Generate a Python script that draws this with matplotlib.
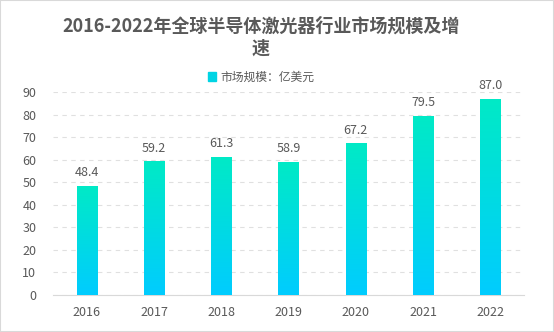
import matplotlib.pyplot as plt
import numpy as np
from matplotlib.colors import LinearSegmentedColormap
from matplotlib.patches import Rectangle

plt.rcParams['font.family'] = ['Noto Sans CJK SC', 'DejaVu Sans']

years = ["2016", "2017", "2018", "2019", "2020", "2021", "2022"]
market = [48.4, 59.2, 61.3, 58.9, 67.2, 79.5, 87.0]
yticks = [0, 10, 20, 30, 40, 50, 60, 70, 80, 90]

title = "2016-2022年全球半导体激光器行业市场规模及增\n速"
legend_label = "市场规模：亿美元"

top_color = "#00eac6"
bottom_color = "#00ccff"
text_color = "#595959"


def main():
    fig = plt.figure(figsize=(5.54, 3.32), dpi=100)
    ax = fig.add_axes([53 / 554, 37 / 332, 471 / 554, 203 / 332])

    cmap = LinearSegmentedColormap.from_list("bar", [bottom_color, top_color])
    grad = np.linspace(0, 1, 256).reshape(-1, 1)
    width = 0.3

    x = np.arange(len(years))
    bars = ax.bar(x, market, width=width, color="none", edgecolor="none")
    for bar, v in zip(bars, market):
        x0 = bar.get_x()
        im = ax.imshow(grad, cmap=cmap, origin="lower", aspect="auto",
                       extent=[x0, x0 + width, 0, v], zorder=3)
        clip = Rectangle((x0, 0), width, v, transform=ax.transData)
        im.set_clip_path(clip)
        ax.text(bar.get_x() + width / 2, v + 3, f"{v:.1f}", ha="center",
                va="bottom", fontsize=9, color=text_color)

    ax.set_xlim(-0.5, len(years) - 0.5)
    ax.set_ylim(0, 90)
    ax.set_yticks(yticks)
    ax.set_xticks(x)
    ax.set_xticklabels(years)
    ax.tick_params(axis="both", length=0, labelsize=9, labelcolor=text_color)
    ax.tick_params(axis="y", pad=12)
    ax.tick_params(axis="x", pad=8)

    ax.grid(axis="y", linestyle=(0, (4, 4)), color="#e0e0e0", linewidth=0.8)
    ax.set_axisbelow(True)
    for s in ["top", "right", "left"]:
        ax.spines[s].set_visible(False)
    ax.spines["bottom"].set_color("#d9d9d9")

    cx = 261 / 554
    fig.text(cx, 1 - 37 / 332, title, ha="center", va="center",
             fontsize=13, fontweight="bold", color=text_color,
             linespacing=1.25)

    fig.legend([Rectangle((0, 0), 1, 1, color="#00d4e4")], [legend_label],
               loc="center", bbox_to_anchor=(cx, 1 - 77 / 332),
               frameon=False, fontsize=8.5, handlelength=0.7, handleheight=0.7,
               handletextpad=0.4, labelcolor=text_color)

    # light border around the picture
    fig.patches.append(Rectangle((0, 0), 1, 1, transform=fig.transFigure,
                                 fill=False, edgecolor="#d9d9d9", linewidth=1.5))

    fig.savefig("out.png", dpi=100)


if __name__ == "__main__":
    main()
